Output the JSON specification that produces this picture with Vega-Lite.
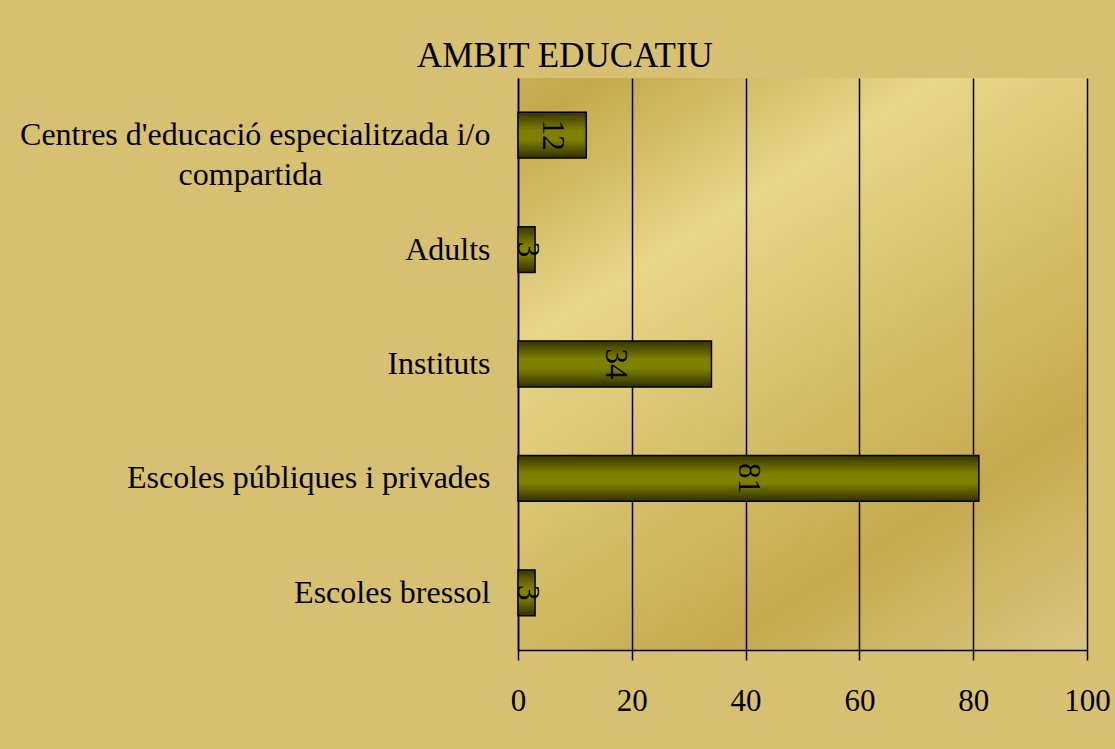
{
  "$schema": "https://vega.github.io/schema/vega-lite/v6.json",
  "autosize": "none",
  "width": 569,
  "height": 572,
  "padding": {"left": 518, "top": 78, "right": 28, "bottom": 99},
  "background": "#d7c071",
  "title": {
    "text": "AMBIT EDUCATIU",
    "font": "Liberation Serif",
    "fontSize": 35,
    "fontWeight": "normal",
    "color": "black",
    "anchor": "middle",
    "frame": "bounds",
    "offset": 4
  },
  "config": {
    "view": {
      "stroke": null,
      "fill": {
        "gradient": "linear",
        "x1": 0, "y1": 0, "x2": 0.735, "y2": 1.167,
        "stops": [
          {"offset": 0, "color": "#c8ae57"},
          {"offset": 0.056, "color": "#c4a84c"},
          {"offset": 0.286, "color": "#e6d68a"},
          {"offset": 0.748, "color": "#c6a94f"},
          {"offset": 1, "color": "#d9c682"}
        ]
      }
    },
    "font": "Liberation Serif"
  },
  "data": {
    "values": [
      {"category": "Centres d'educació especialitzada i/o compartida", "value": 12},
      {"category": "Adults", "value": 3},
      {"category": "Instituts", "value": 34},
      {"category": "Escoles públiques i privades", "value": 81},
      {"category": "Escoles bressol", "value": 3}
    ]
  },
  "encoding": {
    "y": {
      "field": "category",
      "type": "nominal",
      "sort": null,
      "scale": {"paddingInner": 0.6, "paddingOuter": 0.3},
      "axis": {
        "title": null,
        "orient": "left",
        "domain": true,
        "domainColor": "black",
        "domainWidth": 1.5,
        "ticks": false,
        "tickSize": 0,
        "grid": false,
        "labelFont": "Liberation Serif",
        "labelFontSize": 32,
        "labelColor": "black",
        "labelPadding": 28,
        "labelLimit": 800,
        "labelLineHeight": 40,
        "labelExpr": "indexof(datum.value, 'Centres') == 0 ? [\"Centres d'educació especialitzada i/o\", 'compartida\u00a0\u00a0\u00a0\u00a0\u00a0\u00a0\u00a0\u00a0\u00a0\u00a0\u00a0\u00a0\u00a0\u00a0\u00a0\u00a0\u00a0\u00a0\u00a0\u00a0\u00a0\u200b'] : datum.value"
      }
    }
  },
  "layer": [
    {
      "mark": {
        "type": "bar",
        "stroke": "black",
        "strokeWidth": 1.5,
        "fill": {
          "gradient": "linear",
          "x1": 0, "y1": 0, "x2": 0, "y2": 1,
          "stops": [
            {"offset": 0, "color": "#363600"},
            {"offset": 0.4, "color": "#808000"},
            {"offset": 0.6, "color": "#808000"},
            {"offset": 1, "color": "#303000"}
          ]
        }
      },
      "encoding": {
        "x": {
          "field": "value",
          "type": "quantitative",
          "scale": {"domain": [0, 100], "nice": false},
          "axis": {
            "title": null,
            "orient": "bottom",
            "values": [0, 20, 40, 60, 80, 100],
            "domain": true,
            "domainColor": "black",
            "domainWidth": 1.5,
            "ticks": true,
            "tickColor": "black",
            "tickWidth": 1.5,
            "tickSize": 10,
            "grid": true,
            "gridColor": "black",
            "gridWidth": 1.5,
            "gridOpacity": 1,
            "labelFont": "Liberation Serif",
            "labelFontSize": 31,
            "labelColor": "black",
            "labelPadding": 26,
            "labelFlush": false,
            "labelOverlap": false
          }
        }
      }
    },
    {
      "transform": [{"calculate": "datum.value / 2", "as": "mid"}],
      "mark": {
        "type": "text",
        "angle": 90,
        "align": "center",
        "baseline": "middle",
        "font": "Liberation Serif",
        "fontSize": 31,
        "color": "black"
      },
      "encoding": {
        "x": {"field": "mid", "type": "quantitative"},
        "text": {"field": "value", "type": "quantitative"}
      }
    }
  ]
}
